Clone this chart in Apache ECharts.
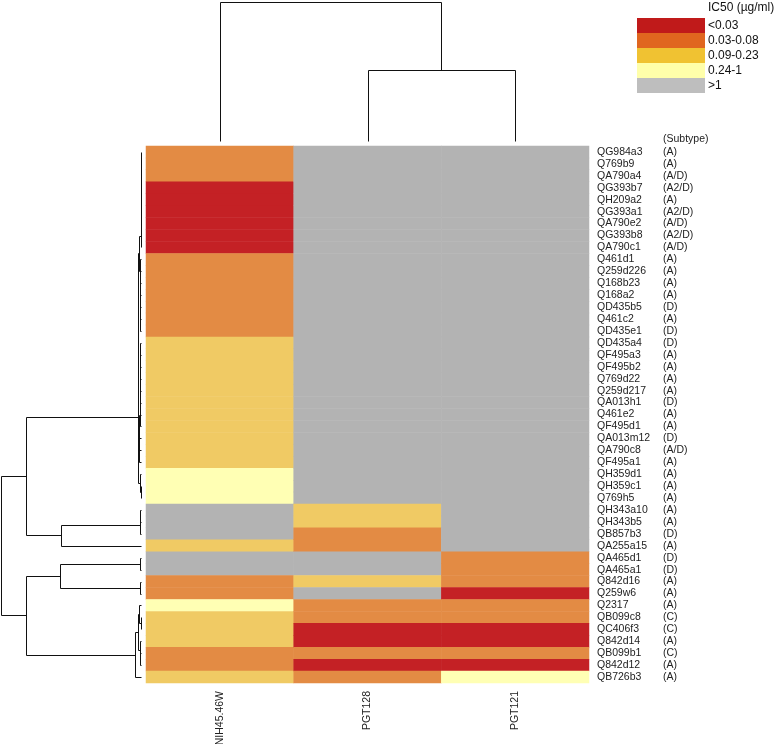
<!DOCTYPE html>
<html><head><meta charset="utf-8">
<script src="https://cdn.jsdelivr.net/npm/echarts@6/dist/echarts.min.js"></script>
<style>html,body{margin:0;padding:0;background:#fff}#c{width:777px;height:744px}</style>
</head><body><div id="c"></div>
<script>
// ---------------- data ----------------
const columns = ['NIH45.46W', 'PGT128', 'PGT121'];
const rows = ['QG984a3','Q769b9','QA790a4','QG393b7','QH209a2','QG393a1','QA790e2','QG393b8','QA790c1',
  'Q461d1','Q259d226','Q168b23','Q168a2','QD435b5','Q461c2','QD435e1','QD435a4','QF495a3','QF495b2',
  'Q769d22','Q259d217','QA013h1','Q461e2','QF495d1','QA013m12','QA790c8','QF495a1','QH359d1','QH359c1',
  'Q769h5','QH343a10','QH343b5','QB857b3','QA255a15','QA465d1','QA465a1','Q842d16','Q259w6','Q2317',
  'QB099c8','QC406f3','Q842d14','QB099b1','Q842d12','QB726b3'];
const subtypes = ['(A)','(A)','(A/D)','(A2/D)','(A)','(A2/D)','(A/D)','(A2/D)','(A/D)',
  '(A)','(A)','(A)','(A)','(D)','(A)','(D)','(D)','(A)','(A)',
  '(A)','(A)','(D)','(A)','(A)','(D)','(A/D)','(A)','(A)','(A)',
  '(A)','(A)','(A)','(D)','(A)','(D)','(D)','(A)','(A)','(A)',
  '(C)','(C)','(A)','(C)','(A)','(A)'];
const levelLabels = ['<0.03', '0.03-0.08', '0.09-0.23', '0.24-1', '>1'];
// IC50 class per row (0 = <0.03 ... 4 = >1)
const nih45 = [1,1,1, 0,0,0,0,0,0, 1,1,1,1,1,1,1, 2,2,2,2,2,2,2,2,2,2,2, 3,3,3, 4,4,4, 2, 4,4, 1,1, 3, 2,2,2, 1,1, 2];
const pgt128 = [4,4,4,4,4,4,4,4,4,4,4,4,4,4,4,4,4,4,4,4,4,4,4,4,4,4,4,4,4,4, 2,2,1,1,4,4,2,4,1,1,0,0,1,0,1];
const pgt121 = [4,4,4,4,4,4,4,4,4,4,4,4,4,4,4,4,4,4,4,4,4,4,4,4,4,4,4,4,4,4,4,4,4,4, 1,1,1,0,1,1,0,0,1,0,3];
// dendrograms: [height, left, right], leaves are indices
const rowC1 = [0.25,[0.25,[0.2,[0.2,[0.2,[0.2,[0.15,[0.15,0,1],2],3],4],5],6],7],8];
const rowC2 = [0.9,[0.8,[0.7,[0.6,[0.5,[0.4,15,14],13],12],11],10],9];
const rowC3 = [1.3,[1.2,[1.1,[1.0,[0.9,[0.8,[0.7,[0.6,[0.5,[0.4,16,17],18],19],20],21],22],23],24],25],26];
const rowTree = [100,
  [82,
    [2.5, [2.0, [1.5, rowC1, rowC2], rowC3], [0.5, 27, [0.25, 28, 29]]],
    [57, [0.7, [0.4, 30, 31], 32], 33]
  ],
  [82,
    [58, [0.8, 34, 35], [0.8, 36, 37]],
    [4.3, [2.2, [1.2, 38, [0.3, 39, 40]], [1.0, 41, [0.4, 42, 43]]], 44]
  ]
];
const colTree = [100, 0, [51, 1, 2]];

// ---------------- build ----------------
const FONT = 'Liberation Sans, Arial, Helvetica, sans-serif';
const heatColors = ['#C42125', '#E38B44', '#F0CA64', '#FFFFB4', '#B3B3B3'];
const legendColors = ['#C01A1A', '#E0661F', '#F0C232', '#FFFFAA', '#BEBEBE'];
const matrix = [nih45, pgt128, pgt121];
const heatData = [];
matrix.forEach((col, c) => col.forEach((v, r) => heatData.push([c, r, v])));

function segments(tree) {
  const segs = [];
  (function walk(node) {
    if (typeof node === 'number') return {h: 0, p: node + 0.5};
    const L = walk(node[1]), R = walk(node[2]);
    segs.push([L.h, L.p, node[0], R.p, R.h]);
    return {h: node[0], p: (L.p + R.p) / 2};
  })(tree);
  return segs;
}
function dendro(swap) {
  return function (params, api) {
    const c = (h, p) => {
      const pt = api.coord(swap ? [p, h] : [h, p]);
      return [Math.round(pt[0]) + 0.5, Math.round(pt[1]) + 0.5];
    };
    const h1 = api.value(0), p1 = api.value(1), h = api.value(2), p2 = api.value(3), h2 = api.value(4);
    return {type: 'polyline', shape: {points: [c(h1, p1), c(h, p1), c(h, p2), c(h2, p2)]},
      style: {stroke: '#111', lineWidth: 1, fill: null}};
  };
}

const chart = echarts.init(document.getElementById('c'), null, {renderer: 'canvas'});
chart.setOption({
  backgroundColor: '#fff',
  animation: false,
  textStyle: {fontFamily: FONT},
  title: {text: 'IC50 (µg/ml)', left: 708, top: 2, padding: 0,
    textStyle: {fontSize: 12, fontWeight: 'normal', color: '#111', fontFamily: FONT}},
  graphic: [{type: 'text', left: 663, top: 134,
    style: {text: '(Subtype)', fontSize: 10.5, fontFamily: FONT, fill: '#222'}}],
  grid: [
    {left: 146, top: 146, width: 443, height: 537, outerBoundsMode: 'none', containLabel: false},
    {left: 1, top: 146, width: 140, height: 537, outerBoundsMode: 'none', containLabel: false},
    {left: 146, top: 2, width: 443, height: 139, outerBoundsMode: 'none', containLabel: false}
  ],
  xAxis: [
    {gridIndex: 0, type: 'category', data: columns, position: 'bottom',
      axisLine: {show: false}, axisTick: {show: false}, splitLine: {show: false},
      axisLabel: {interval: 0, rotate: 90, margin: 8, fontSize: 10.5, color: '#222', fontFamily: FONT}},
    {gridIndex: 1, type: 'value', min: 0, max: 100, inverse: true, show: false},
    {gridIndex: 2, type: 'value', min: 0, max: 3, show: false}
  ],
  yAxis: [
    {gridIndex: 0, type: 'category', data: rows, inverse: true, position: 'right',
      axisLine: {show: false}, axisTick: {show: false}, splitLine: {show: false},
      axisLabel: {interval: 0, margin: 8, fontSize: 10.5, color: '#222', fontFamily: FONT,
        formatter: (v, i) => '{n|' + v + '}{s|' + subtypes[i] + '}',
        rich: {n: {width: 66, fontSize: 10.5, fontFamily: FONT, color: '#222'},
               s: {fontSize: 10.5, fontFamily: FONT, color: '#222'}}}},
    {gridIndex: 1, type: 'value', min: 0, max: 45, inverse: true, show: false},
    {gridIndex: 2, type: 'value', min: 0, max: 100, show: false}
  ],
  visualMap: [
    {type: 'piecewise', show: false, seriesIndex: 0, dimension: 2,
      pieces: levelLabels.map((l, i) => ({value: i, label: l, color: heatColors[i]}))},
    {type: 'piecewise', show: true, seriesIndex: 1, dimension: 2, orient: 'vertical', inverse: true,
      align: 'left', left: 637, top: 18, padding: 0, itemWidth: 68, itemHeight: 15, itemGap: 0, textGap: 3,
      itemSymbol: 'rect', selectedMode: false, hoverLink: false,
      textStyle: {fontSize: 12, color: '#111', fontFamily: FONT},
      pieces: levelLabels.map((l, i) => ({value: i, label: l, color: legendColors[i]}))}
  ],
  series: [
    {type: 'heatmap', xAxisIndex: 0, yAxisIndex: 0, data: heatData, silent: true,
      emphasis: {disabled: true}, progressive: 0},
    {type: 'scatter', xAxisIndex: 0, yAxisIndex: 0, data: [], silent: true},
    {type: 'custom', xAxisIndex: 1, yAxisIndex: 1, data: segments(rowTree), renderItem: dendro(false),
      silent: true, clip: false},
    {type: 'custom', xAxisIndex: 2, yAxisIndex: 2, data: segments(colTree), renderItem: dendro(true),
      silent: true, clip: false}
  ]
});
</script></body></html>
